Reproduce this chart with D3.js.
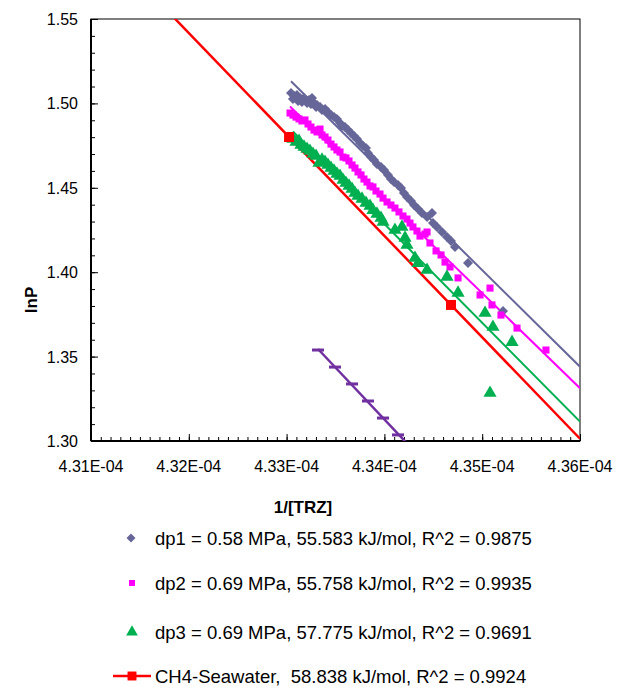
<!DOCTYPE html>
<html>
<head>
<meta charset="utf-8">
<script src="https://cdn.jsdelivr.net/npm/d3@7"></script>
<style>
  body { margin: 0; background: #fff; }
  text { font-family: Arial, "Liberation Sans", sans-serif; fill: #000; }
</style>
</head>
<body>
<svg id="chart" width="618" height="686"></svg>
<script>
// data ------------------------------
// x values are 1/[TRZ] in units of 1E-04 mol/J
const dp1X = [4.33045, 4.33065, 4.33076, 4.33106, 4.33117, 4.33137, 4.33157, 4.33168, 4.33198, 4.33209,
  4.33229, 4.33249, 4.3326, 4.3328, 4.33301, 4.33311,
  4.33342, 4.33362, 4.33393, 4.33423, 4.33454, 4.33485, 4.33515, 4.33546, 4.33566, 4.33597,
  4.33628, 4.33658, 4.33689, 4.3372, 4.33751, 4.33781, 4.33812, 4.33832, 4.33863, 4.33894,
  4.33924, 4.33965, 4.33996, 4.34037, 4.34067, 4.34098, 4.34139, 4.3417, 4.342, 4.34231,
  4.34272, 4.34303, 4.34344, 4.34384, 4.34436, 4.34487, 4.34497, 4.34538, 4.34589, 4.3464,
  4.34681, 4.34722, 4.34855, 4.35213]
const dp1Y = [1.5062, 1.5026, 1.5044, 1.505, 1.5014, 1.5032, 1.5008, 1.5026, 1.5014, 1.5002,
  1.502, 1.4996, 1.5032, 1.5002, 1.4979, 1.4991,
  1.4979, 1.4961, 1.4967, 1.4949, 1.4931, 1.4919, 1.4908, 1.4884, 1.4866, 1.486,
  1.4842, 1.4825, 1.4807, 1.4789, 1.4765, 1.4748, 1.4736, 1.4706, 1.4682, 1.4665,
  1.4641, 1.4623, 1.4605, 1.4576, 1.4552, 1.4534, 1.4517, 1.4499, 1.4469, 1.4446,
  1.4422, 1.4398, 1.4374, 1.4351, 1.4327, 1.4351, 1.4291, 1.4268, 1.4238, 1.4209,
  1.4185, 1.4149, 1.4054, 1.377]

const dp2X = [4.33035, 4.33065, 4.33096, 4.33127, 4.33157, 4.33188, 4.33219, 4.33249, 4.3328, 4.33311,
  4.33342, 4.33362, 4.33393, 4.33423, 4.33454, 4.33485, 4.33515, 4.33546, 4.33577, 4.33607,
  4.33638, 4.33669, 4.33699, 4.3373, 4.33761, 4.33791, 4.33822, 4.33853, 4.33883, 4.33914,
  4.33955, 4.33986, 4.34027, 4.34067, 4.34108, 4.34149, 4.3419, 4.34231, 4.34262, 4.34292,
  4.34333, 4.34364, 4.34415, 4.34436, 4.34466, 4.34528, 4.34579, 4.3462, 4.34671, 4.34753,
  4.34978, 4.3508, 4.351, 4.35192, 4.35356, 4.35652]
const dp2Y = [1.4943, 1.4931, 1.4919, 1.4908, 1.4896, 1.4902, 1.4878, 1.486, 1.4842, 1.4831,
  1.4848, 1.4813, 1.4801, 1.4783, 1.4759, 1.4742, 1.4724, 1.4712, 1.4682, 1.4677,
  1.4659, 1.4635, 1.4617, 1.4594, 1.4576, 1.4552, 1.4534, 1.4511, 1.4505, 1.4481,
  1.4463, 1.4439, 1.4416, 1.4398, 1.438, 1.4357, 1.4333, 1.4315, 1.4291, 1.4268,
  1.4244, 1.4214, 1.4226, 1.4238, 1.4173, 1.4126, 1.4102, 1.406, 1.4031, 1.3966,
  1.3865, 1.3906, 1.3806, 1.3746, 1.3669, 1.3539]

const dp3X = [4.33065, 4.33096, 4.33127, 4.33147, 4.33178, 4.33209, 4.33239, 4.3327, 4.33301, 4.33331,
  4.33362, 4.33393, 4.33423, 4.33454, 4.33485, 4.33515, 4.33546, 4.33577, 4.33607, 4.33638,
  4.33669, 4.33699, 4.3373, 4.33771, 4.33812, 4.33853, 4.33883, 4.33924, 4.33965, 4.33986,
  4.34108, 4.3418, 4.34211, 4.34231, 4.34313, 4.34344, 4.34436, 4.3464, 4.34753, 4.35029,
  4.3511, 4.35305, 4.3508]
const dp3Y = [1.4789, 1.4771, 1.4777, 1.4754, 1.4742, 1.473, 1.4718, 1.47, 1.4688, 1.4647,
  1.4665, 1.4653, 1.4635, 1.4617, 1.46, 1.4582, 1.457, 1.4546, 1.4528, 1.4511,
  1.4493, 1.4469, 1.4451, 1.4434, 1.441, 1.4392, 1.4368, 1.4345, 1.4321, 1.4297,
  1.425, 1.4268, 1.4203, 1.4161, 1.4084, 1.4054, 1.4013, 1.3972, 1.3877, 1.3758,
  1.3675, 1.3586, 1.3284]

const seawaterX = [4.33025, 4.34681]
const seawaterY = [1.4801, 1.3806]

const refX = [4.33321, 4.33495, 4.33669, 4.33832, 4.33986, 4.34139]
const refY = [1.3539, 1.3438, 1.3338, 1.3237, 1.3136, 1.3036]

const xTicks = [4.31, 4.32, 4.33, 4.34, 4.35, 4.36]
const yTicks = [1.3, 1.35, 1.4, 1.45, 1.5, 1.55]

const legendLabels = [
  'dp1 = 0.58 MPa, 55.583 kJ/mol, R^2 = 0.9875',
  'dp2 = 0.69 MPa, 55.758 kJ/mol, R^2 = 0.9935',
  'dp3 = 0.69 MPa, 57.775 kJ/mol, R^2 = 0.9691',
  'CH4-Seawater,  58.838 kJ/mol, R^2 = 0.9924'
]

// chart ------------------------------
const E = 1e-4
const width = 618
const height = 686
const x0 = 91
const x1 = 580
const y0 = 19
const y1 = 441

const x = d3.scaleLinear().domain([xTicks[0] * E, xTicks[xTicks.length - 1] * E]).range([x0, x1])
const y = d3.scaleLinear().domain([yTicks[0], yTicks[yTicks.length - 1]]).range([y1, y0])

const svg = d3.select('#chart')
svg.append('rect').attr('width', width).attr('height', height).attr('fill', '#fff')

svg.append('defs').append('clipPath').attr('id', 'clip')
  .append('rect').attr('x', x0).attr('y', y0).attr('width', x1 - x0).attr('height', y1 - y0)

// frame
svg.append('rect')
  .attr('x', x0).attr('y', y0).attr('width', x1 - x0).attr('height', y1 - y0)
  .attr('fill', 'none').attr('stroke', '#000').attr('stroke-width', 1)

// axes, ticks pointing inside
const fmtX = (d) => (d / E).toFixed(2) + 'E-04'
const xMinor = d3.range(0, 51).map((i) => (4.31 + i * 0.001) * E)
const yMinor = d3.range(0, 26).map((i) => 1.3 + i * 0.01)

const xAxis = svg.append('g').attr('transform', `translate(0,${y1})`)
xAxis.append('g').call(d3.axisTop(x).tickValues(xMinor).tickSize(4).tickFormat(''))
xAxis.append('g').call(d3.axisTop(x).tickValues(xTicks.map((d) => d * E)).tickSize(7).tickFormat(''))
xAxis.selectAll('.domain').remove()
xAxis.selectAll('line').attr('stroke', '#000')
svg.append('line').attr('x1', x0).attr('x2', x1).attr('y1', y1).attr('y2', y1)
  .attr('stroke', '#000').attr('stroke-width', 2)

svg.append('g').selectAll('text').data(xTicks).join('text')
  .attr('x', (d) => x(d * E)).attr('y', y1 + 31)
  .attr('text-anchor', 'middle').style('font-size', '16px')
  .text((d) => fmtX(d * E))

const yAxis = svg.append('g').attr('transform', `translate(${x0},0)`)
yAxis.append('g').call(d3.axisRight(y).tickValues(yMinor).tickSize(4).tickFormat(''))
yAxis.append('g').call(d3.axisRight(y).tickValues(yTicks).tickSize(7).tickFormat(''))
yAxis.selectAll('.domain').remove()
yAxis.selectAll('line').attr('stroke', '#000')
svg.append('line').attr('x1', x0).attr('x2', x0).attr('y1', y0).attr('y2', y1)
  .attr('stroke', '#000').attr('stroke-width', 2)

svg.append('g').selectAll('text').data(yTicks).join('text')
  .attr('x', x0 - 13).attr('y', (d) => y(d) + 6)
  .attr('text-anchor', 'end').style('font-size', '16px')
  .text((d) => d.toFixed(2))

// axis titles
svg.append('text').attr('x', 303).attr('y', 513).attr('text-anchor', 'middle')
  .style('font-size', '17px').style('font-weight', 'bold').text('1/[TRZ]')
svg.append('text').attr('transform', `translate(37,300) rotate(-90)`)
  .attr('text-anchor', 'middle').style('font-size', '17px').style('font-weight', 'bold').text('lnP')

// helpers
function zip(xs, ys) {
  return xs.map((v, i) => [v * E, ys[i]])
}
// least squares line (like the spreadsheet trendline)
function fit(xs, ys) {
  const mx = d3.mean(xs)
  const my = d3.mean(ys)
  const sxy = d3.sum(xs, (v, i) => (v - mx) * (ys[i] - my))
  const sxx = d3.sum(xs, (v) => (v - mx) * (v - mx))
  const slope = sxy / sxx
  return { slope, intercept: my - slope * mx }
}

const plot = svg.append('g').attr('clip-path', 'url(#clip)')
const line = d3.line().x((d) => x(d[0])).y((d) => y(d[1]))

function trend(xs, ys, from, to, color, w) {
  const f = fit(xs, ys)
  const pts = [from, to].map((v) => [v * E, f.intercept + f.slope * v])
  plot.append('path').datum(pts)
    .attr('d', line)
    .attr('fill', 'none').attr('stroke', color).attr('stroke-width', w)
}

const xStart = xTicks[0]
const xEnd = xTicks[xTicks.length - 1]

trend(dp1X, dp1Y, d3.min(dp1X), xEnd, '#666699', 2)
trend(dp2X, dp2Y, d3.min(dp2X), xEnd, '#FF00FF', 2)
trend(dp3X, dp3Y, d3.min(dp3X), xEnd, '#00B050', 2)
trend(seawaterX, seawaterY, xStart, xEnd, '#FF0000', 2.5)
trend(refX, refY, d3.min(refX), xEnd, '#7030A0', 2.5)

// markers
function markers(xs, ys, path, color, rot) {
  plot.append('g').selectAll('path').data(zip(xs, ys)).join('path')
    .attr('d', path)
    .attr('transform', (d) => `translate(${x(d[0])},${y(d[1])}) rotate(${rot})`)
    .attr('fill', color)
}

markers(dp1X, dp1Y, d3.symbol(d3.symbolSquare, 50)(), '#666699', 45)
markers(dp2X, dp2Y, d3.symbol(d3.symbolSquare, 50)(), '#FF00FF', 0)
markers(dp3X, dp3Y, d3.symbol(d3.symbolTriangle, 75)(), '#00B050', 0)
markers(seawaterX, seawaterY, d3.symbol(d3.symbolSquare, 100)(), '#FF0000', 0)

plot.append('g').selectAll('rect').data(zip(refX, refY)).join('rect')
  .attr('x', (d) => x(d[0]) - 6).attr('y', (d) => y(d[1]) - 1.5)
  .attr('width', 12).attr('height', 3).attr('fill', '#7030A0')

// legend
const legendRows = [538, 583, 632, 676]
const legend = svg.append('g')
legend.append('path').attr('d', d3.symbol(d3.symbolSquare, 40)())
  .attr('transform', `translate(131,${legendRows[0]}) rotate(45)`).attr('fill', '#666699')
legend.append('path').attr('d', d3.symbol(d3.symbolSquare, 36)())
  .attr('transform', `translate(132,${legendRows[1]})`).attr('fill', '#FF00FF')
legend.append('path').attr('d', d3.symbol(d3.symbolTriangle, 60)())
  .attr('transform', `translate(132,${legendRows[2]})`).attr('fill', '#00B050')
legend.append('line').attr('x1', 113).attr('x2', 151).attr('y1', legendRows[3]).attr('y2', legendRows[3])
  .attr('stroke', '#FF0000').attr('stroke-width', 2.5)
legend.append('path').attr('d', d3.symbol(d3.symbolSquare, 80)())
  .attr('transform', `translate(132,${legendRows[3]})`).attr('fill', '#FF0000')

legend.selectAll('text').data(legendLabels).join('text')
  .attr('x', 155).attr('y', (d, i) => legendRows[i] + 7)
  .style('font-size', '18.5px')
  .style('white-space', 'pre')
  .text((d) => d)
</script>
</body>
</html>
